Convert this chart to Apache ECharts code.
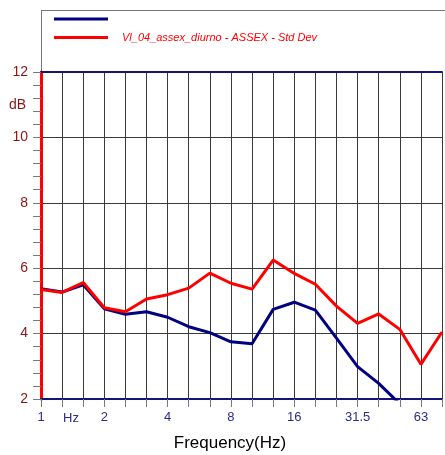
<!DOCTYPE html>
<html>
<head>
<meta charset="utf-8">
<script src="https://cdn.jsdelivr.net/npm/echarts@6/dist/echarts.min.js"></script>
<style>
  html, body { margin: 0; padding: 0; background: #fff; overflow: hidden; }
  #chart { width: 445px; height: 455px; }
</style>
</head>
<body>
<div id="chart"></div>
<script>
// One-third octave band centre frequencies (Hz)
const bands = ['1', '1.25', '1.6', '2', '2.5', '3.15', '4', '5', '6.3', '8', '10',
               '12.5', '16', '20', '25', '31.5', '40', '50', '63', '80'];
// Bands that carry a tick label
const labelledBands = ['1', '2', '4', '8', '16', '31.5', '63'];
// Level spectrum (dB), runs below the axis floor above 40 Hz
const levelValues = [5.37, 5.27, 5.49, 4.76, 4.59, 4.67, 4.50, 4.21, 4.03, 3.75, 3.69,
                     4.74, 4.96, 4.72, 3.86, 2.99, 2.48, 1.85, null, null];
// Standard deviation (dB)
const stdDevValues = [5.35, 5.26, 5.56, 4.79, 4.67, 5.06, 5.19, 5.39, 5.85, 5.54, 5.36,
                      6.25, 5.84, 5.51, 4.84, 4.31, 4.60, 4.13, 3.06, 4.05];
const stdDevName = 'Vl_04_assex_diurno - ASSEX - Std Dev';
const yTicks = { min: 2, max: 12, interval: 2 };

const FONT = '"Liberation Sans", Arial, sans-serif';
const chart = echarts.init(document.getElementById('chart'), null, { width: 445, height: 455 });

chart.setOption({
  animation: false,
  backgroundColor: '#fff',
  grid: { left: 41, top: 72, width: 407, height: 327, containLabel: false },
  legend: {
    orient: 'vertical',
    left: 49,
    top: 7,
    itemWidth: 54,
    itemHeight: 3,
    itemGap: 4.5,
    icon: 'rect',
    data: [' ', stdDevName],
    selectedMode: false,
    textStyle: {
      fontFamily: FONT, fontSize: 11, fontStyle: 'italic', color: '#ff0000',
      lineHeight: 14, padding: [0, 0, 0, 9]
    }
  },
  xAxis: [{
    type: 'category',
    data: bands,
    boundaryGap: false,
    position: 'bottom',
    axisLine: { lineStyle: { color: '#14147a', width: 2 } },
    axisTick: { show: true, interval: 0, length: 8, lineStyle: { color: '#777', width: 1 } },
    axisLabel: {
      interval: 0,
      margin: 12,
      fontFamily: FONT, fontSize: 13, color: '#2b2b90',
      formatter: v => labelledBands.includes(v) ? v : ''
    },
    splitLine: { show: true, interval: 0, lineStyle: { color: '#3a3a3a', width: 1 } }
  }, {
    type: 'category',
    data: bands,
    boundaryGap: false,
    position: 'top',
    axisLine: { lineStyle: { color: '#14147a', width: 2 } },
    axisTick: { show: false },
    axisLabel: { show: false },
    splitLine: { show: false }
  }],
  yAxis: {
    type: 'value',
    min: yTicks.min, max: yTicks.max, interval: yTicks.interval,
    axisLine: { show: true, lineStyle: { color: '#ff0000', width: 3 } },
    axisTick: { show: true, length: 8, lineStyle: { color: '#777', width: 1 } },
    minorTick: { show: true, splitNumber: 5, length: 8, lineStyle: { color: '#777', width: 1 } },
    axisLabel: { margin: 13, fontFamily: FONT, fontSize: 14, color: '#8b1414' },
    splitLine: { show: true, lineStyle: { color: '#3a3a3a', width: 1 } }
  },
  graphic: [
    { type: 'line', shape: { x1: 41, y1: 10.5, x2: 445, y2: 10.5 },
      style: { stroke: '#777', lineWidth: 1 }, silent: true },
    { type: 'line', shape: { x1: 41.5, y1: 10, x2: 41.5, y2: 72 },
      style: { stroke: '#777', lineWidth: 1 }, silent: true },
    { type: 'text', x: 9, y: 98,
      style: { text: 'dB', font: '14px ' + FONT, fill: '#8b1414' }, silent: true },
    { type: 'text', x: 63, y: 412,
      style: { text: 'Hz', font: '13px ' + FONT, fill: '#2b2b90' }, silent: true },
    { type: 'text', x: 230, y: 443,
      style: { text: 'Frequency(Hz)', font: '17px ' + FONT, fill: '#000',
               textAlign: 'center', textVerticalAlign: 'middle' }, silent: true }
  ],
  series: [{
    name: ' ',
    type: 'line',
    data: levelValues,
    symbol: 'none',
    clip: true,
    z: 3,
    lineStyle: { color: '#000080', width: 3 },
    itemStyle: { color: '#000080' }
  }, {
    name: stdDevName,
    type: 'line',
    data: stdDevValues,
    symbol: 'none',
    clip: true,
    z: 4,
    lineStyle: { color: '#ff0000', width: 3 },
    itemStyle: { color: '#ff0000' }
  }]
});
</script>
</body>
</html>
